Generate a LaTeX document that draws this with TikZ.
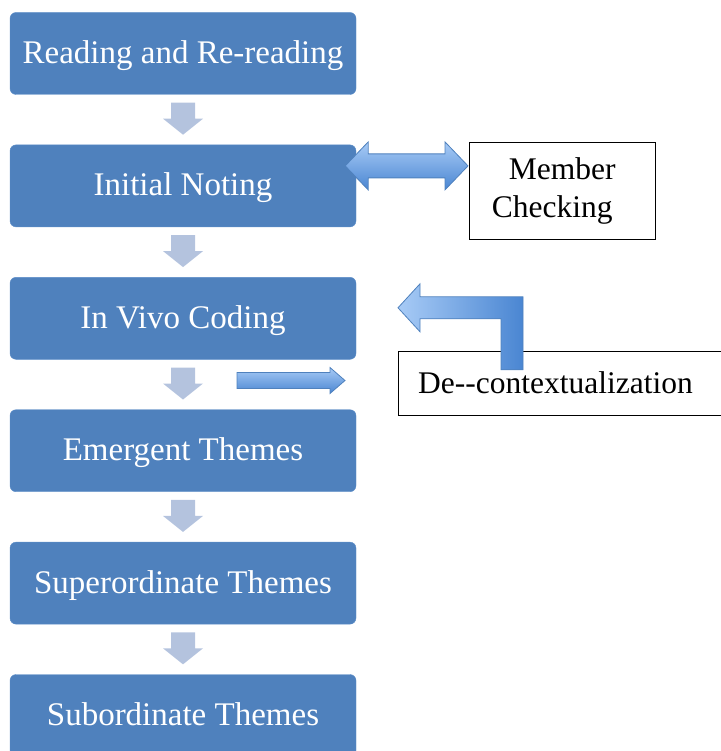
\documentclass[tikz,border=0pt]{standalone}
\usepackage{fontspec}
\setmainfont{Liberation Serif}
\usetikzlibrary{positioning,calc}
\definecolor{boxblue}{HTML}{4F81BD}
\definecolor{boxedge}{HTML}{5C8DC8}
\definecolor{stepgray}{HTML}{B4C3DE}
\definecolor{arrlight}{HTML}{A8CBF6}
\definecolor{arrdark}{HTML}{4A86D2}
\definecolor{arredge}{HTML}{4F81BD}

\begin{document}
\begin{tikzpicture}[x=1pt,y=1pt,node distance=50pt,
  stage/.style={rectangle,rounded corners=6pt,fill=boxblue,draw=boxedge,text=white,
    minimum width=346pt,minimum height=82pt,text height=25pt,text depth=5pt,
    font=\fontsize{33}{38}\selectfont},
  note/.style={rectangle,draw,thin,font=\fontsize{31.5}{38}\selectfont},
  bluearr/.style={draw=arredge,line width=0.8pt,top color=arrlight,bottom color=arrdark},
  bentarr/.style={draw=arredge,line width=0.8pt,left color=arrlight,right color=arrdark},
  downarr/.pic={\fill[stepgray] (-12,16) -- (-12,0) -- (-20,0) -- (0,-16) -- (20,0) -- (12,0) -- (12,16) -- cycle;}]
\useasboundingbox (0,0) rectangle (720,-751);
% the six stages
\node [stage] (read) at (183,-53.5) {Reading and Re-reading};
\node [stage,below=of read] (noting) {Initial Noting};
\node [stage,below=of noting] (vivo) {In Vivo Coding};
\node [stage,below=of vivo] (emerge) {Emergent Themes};
\node [stage,below=of emerge] (super) {Superordinate Themes};
\node [stage,below=of super] (sub) {Subordinate Themes};
\foreach \a/\b in {read/noting,noting/vivo,vivo/emerge,emerge/super,super/sub}
  \pic at ($(\a.south)!0.5!(\b.north)+(0,1)$) {downarr};
% side notes
\node [note,align=center,minimum width=186pt,minimum height=97pt,anchor=west] (member) at (469,-190.5) {Member\\Checking\hspace*{20pt}};
\node [note,anchor=west,text width=284pt,inner xsep=20pt,minimum height=64pt,align=left] (decon) at (398,-383) {De-{}-contextualization};
% block arrows
\path ($(noting.east)+(-11,20)$) coordinate (dbl-l)
  ($(member.west |- dbl-l)+(-1,0)$) coordinate (dbl-r);
\draw [bluearr] (dbl-l) -- ++(23,24) -- ++(0,-12) -- ($(dbl-r)+(-23,12)$) -- ++(0,12) -- (dbl-r)
  -- ++(-23,-24) -- ++(0,12) -- ($(dbl-l)+(23,-12)$) -- ++(0,-12) -- cycle;
\coordinate (bent-tip) at ($(decon.north west)+(0,43)$);
\draw [bentarr]
  (bent-tip) -- ++(22,24) -- ++(0,-13) -- ++(103,0) -- ++(0,-73) -- ++(-22,0)
  -- ++(0,51) -- ++(-81,0) -- ++(0,-13) -- cycle;
\coordinate (small-tail) at ($(vivo.south)+(54,-21)$);
\draw [bluearr] (small-tail) ++(0,8) -- ++(93,0) -- ++(0,5) -- ++(15,-13) -- ++(-15,-13)
  -- ++(0,5) -- ++(-93,0) -- cycle;
\end{tikzpicture}
\end{document}
